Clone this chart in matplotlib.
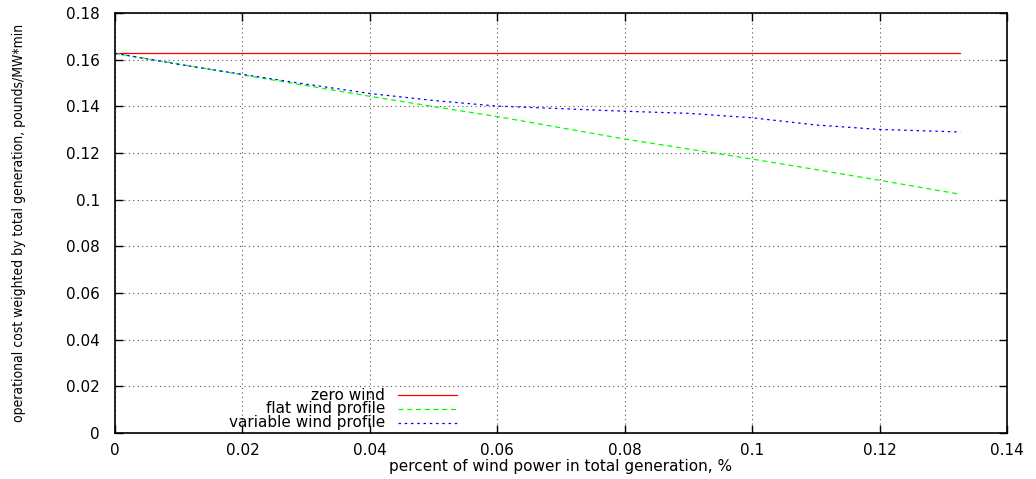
import matplotlib
matplotlib.use("Agg")
import matplotlib.pyplot as plt
from matplotlib.lines import Line2D

# wind share in total generation
wind_share = [0.0, 0.01, 0.02, 0.03, 0.04, 0.05, 0.06, 0.07, 0.08, 0.09, 0.10, 0.11, 0.12, 0.1327]

# operational cost per series
zero_wind = [0.1627] * len(wind_share)
flat_wind = [0.1627, 0.1581, 0.1535, 0.1489, 0.1443, 0.1399, 0.1356, 0.1308, 0.1260, 0.1217, 0.1174, 0.1129, 0.1083, 0.1023]
variable_wind = [0.1627, 0.1580, 0.1537, 0.1495, 0.1455, 0.1425, 0.1401, 0.1390, 0.1379, 0.1370, 0.1351, 0.1320, 0.1301, 0.1290]

series_names = ["zero wind", "flat wind profile", "variable wind profile"]

x_ticks = [0, 0.02, 0.04, 0.06, 0.08, 0.1, 0.12, 0.14]
y_ticks = [0, 0.02, 0.04, 0.06, 0.08, 0.1, 0.12, 0.14, 0.16, 0.18]

plt.rcParams['font.family'] = ['DejaVu Sans']

fig = plt.figure(figsize=(10.36, 4.79), dpi=100)
ax = fig.add_axes([115 / 1036, 46 / 479, 892 / 1036, 420 / 479])

styles = [
    dict(color='#ff0000', linestyle='-'),
    dict(color='#00ff00', linestyle=(0, (4, 3))),
    dict(color='#0000ff', linestyle=(0, (2, 3))),
]
data = [zero_wind, flat_wind, variable_wind]

for ys, st in zip(data, styles):
    ax.plot(wind_share, ys, linewidth=0.9, **st)

ax.set_xlim(0, 0.14)
ax.set_ylim(0, 0.18)
ax.set_xticks(x_ticks)
ax.set_yticks(y_ticks)
ax.set_xticklabels([f"{t:g}" for t in x_ticks])
ax.set_yticklabels([f"{t:g}" for t in y_ticks])
ax.tick_params(direction='in', length=6, width=1, top=True, right=True,
               labelsize=11)
ax.tick_params(axis='y', pad=11)
ax.tick_params(axis='x', pad=7)
ax.grid(True, color='#555555', linestyle=(0, (1, 3)), linewidth=0.8)
for s in ax.spines.values():
    s.set_linewidth(1.2)

ax.set_xlabel("percent of wind power in total generation, %", fontsize=11, labelpad=1)
ax.set_ylabel("operational cost weighted by total generation, pounds/MW*min",
              fontsize=10, family=['Liberation Sans Narrow', 'DejaVu Sans'],
              fontstretch='condensed', labelpad=29)

# gnuplot style key: text right aligned, sample to the right
key_rows = [395, 409, 423]
for name, st, yp in zip(series_names, styles, key_rows):
    yf = (479 - yp) / 479
    fig.text(385 / 1036, yf, name, ha='right', va='center', fontsize=11)
    fig.add_artist(Line2D([398 / 1036, 457 / 1036], [yf, yf], transform=fig.transFigure,
                          linewidth=0.9, **st))

fig.savefig("out.png", dpi=100)
